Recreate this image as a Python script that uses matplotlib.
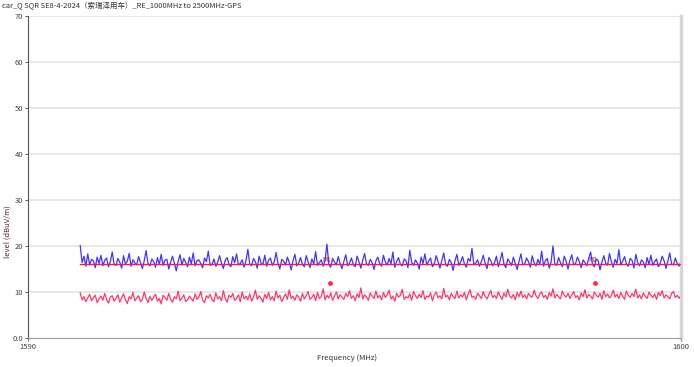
import numpy as np
import matplotlib.pyplot as plt

plt.rcParams['font.family'] = ['Noto Sans CJK SC', 'DejaVu Sans']

f_start = 1590.8
f_stop = 1600.0
limit = 16.0

peak = [20.1, 16.4, 17.8, 15.6, 18.3, 15.9, 17.1, 16.8, 15.3, 17.6, 16.2, 18.0, 15.7, 16.9, 17.4, 15.5, 16.6, 18.7, 16.0, 15.8,
        17.3, 16.5, 15.2, 17.9, 16.1, 16.7, 18.4, 15.6, 17.0, 16.3, 15.9, 17.7, 16.4, 15.1, 16.8, 19.0, 16.2, 15.7, 17.2, 16.6,
        15.4, 17.5, 16.0, 18.2, 15.8, 16.9, 17.1, 15.0, 16.5, 17.8, 16.3, 14.6, 16.7, 18.1, 15.9, 17.3, 16.4, 15.5, 17.6, 16.1,
        18.5, 15.7, 16.8, 17.0, 16.2, 15.3, 17.4, 16.6, 18.9, 15.8, 16.0, 17.2, 15.6, 16.5, 17.9, 16.3, 15.1, 16.9, 17.5, 16.0,
        15.5, 17.7, 16.4, 18.3, 15.9, 16.2, 17.0, 15.4, 16.8, 19.3, 16.1, 15.7, 17.3, 16.6, 15.2, 17.8, 16.3, 16.0, 18.0, 15.6,
        16.9, 17.4, 15.8, 16.5, 18.6, 16.2, 15.0, 17.1, 16.7, 15.9, 17.6, 16.4, 14.8, 16.8, 18.2, 15.7, 16.3, 17.5, 16.0, 15.5,
        17.9, 16.6, 15.3, 17.2, 16.1, 18.8, 15.8, 16.4, 17.0, 15.6, 16.9, 20.4, 16.0, 15.4, 17.3, 16.5, 15.9, 17.7, 16.2, 15.1,
        16.7, 18.1, 15.7, 16.3, 17.4, 16.0, 15.5, 17.8, 16.6, 15.2, 16.9, 18.4, 16.1, 15.8, 17.1, 16.4, 14.9, 16.8, 17.6, 16.2,
        15.6, 18.0, 16.5, 15.9, 17.3, 16.1, 18.7, 15.4, 16.6, 17.5, 16.0, 15.7, 17.2, 16.8, 15.3, 19.1, 16.4, 15.8, 17.0, 16.3,
        15.0, 17.6, 16.2, 18.3, 15.9, 16.7, 17.4, 15.5, 16.1, 17.9, 16.6, 15.2, 16.9, 18.5, 16.0, 15.6, 17.1, 16.4, 14.7, 16.8,
        18.2, 15.8, 16.5, 17.7, 16.1, 15.4, 17.3, 16.7, 19.5, 15.9, 16.3, 17.0, 15.6, 16.6, 18.0, 16.2, 15.1, 17.5, 16.8, 15.7,
        16.4, 17.8, 15.5, 16.9, 18.6, 16.0, 15.3, 17.2, 16.5, 15.8, 17.6, 16.2, 14.9, 16.7, 18.3, 15.9, 16.1, 17.4, 16.6, 15.4,
        17.9, 16.3, 15.7, 17.1, 16.0, 18.9, 15.6, 16.8, 17.3, 15.2, 16.5, 20.0, 16.1, 15.8, 17.5, 16.4, 15.5, 17.8, 16.7, 15.0,
        16.9, 18.1, 15.9, 16.2, 17.6, 16.6, 15.3, 17.0, 16.4, 15.7, 17.4, 18.7, 16.0, 15.5, 17.2, 16.8, 14.8, 16.5, 17.9, 16.3,
        15.8, 18.4, 16.6, 15.4, 17.1, 16.2, 19.2, 15.9, 16.7, 17.7, 16.1, 15.6, 17.3, 16.9, 15.2, 18.2, 16.4, 15.7, 17.0, 16.5,
        15.3, 17.5, 16.0, 18.0, 15.8, 16.6, 17.2, 15.5, 16.3, 17.8, 16.8, 15.1, 16.7, 18.5, 16.1, 15.9, 17.4, 16.2, 15.6, 16.8]

avg = [9.8, 8.3, 9.0, 7.9, 8.7, 9.5, 8.1, 8.8, 9.3, 7.7, 8.5, 9.1, 8.2, 9.7, 8.4, 7.6, 8.9, 9.2, 8.0, 8.6,
       9.4, 7.8, 8.8, 9.6, 8.3, 7.5, 9.0, 8.5, 9.9, 8.1, 8.7, 9.2, 7.9, 8.4, 10.0, 8.6, 7.7, 9.1, 8.2, 8.9,
       9.5, 8.0, 8.6, 7.4, 9.3, 8.8, 8.2, 9.7, 8.4, 7.8, 9.0, 8.5, 10.2, 8.1, 8.7, 9.4, 7.9, 8.3, 9.1, 8.6,
       8.0, 9.6, 8.4, 8.9, 10.1, 8.2, 7.7, 9.2, 8.7, 9.5, 8.3, 7.9, 9.8, 8.5, 9.0, 8.1, 10.3, 8.6, 7.8, 9.3,
       8.8, 9.7, 8.2, 8.6, 9.4, 7.9, 10.0, 8.5, 9.1, 8.3, 9.6, 8.0, 8.9, 10.4, 8.4, 9.2, 8.7, 7.8, 9.5, 8.6,
       9.9, 8.3, 9.0, 8.1, 10.2, 8.7, 9.3, 7.9, 8.8, 9.6, 8.4, 10.5, 8.6, 9.1, 8.2, 9.4, 8.9, 8.0, 9.7, 8.5,
       9.2, 10.1, 8.4, 8.8, 9.5, 8.1, 9.9, 8.6, 9.0, 10.7, 8.3, 9.3, 8.7, 9.8, 8.2, 9.1, 10.0, 8.5, 9.4, 8.9,
       8.4, 9.7, 9.0, 10.3, 8.6, 9.2, 8.1, 9.6, 8.8, 10.9, 8.5, 9.4, 8.9, 8.2, 9.8, 9.1, 8.6, 10.2, 8.7, 9.3,
       8.3, 9.9, 8.8, 9.4, 10.4, 8.5, 9.1, 8.0, 9.7, 8.9, 9.3, 10.6, 8.4, 9.0, 8.7, 9.6, 8.2, 10.1, 9.2, 8.6,
       9.5, 8.8, 10.3, 8.4, 9.1, 8.9, 9.8, 8.1, 9.4, 10.0, 8.7, 9.2, 8.5, 10.8, 8.9, 9.3, 8.3, 9.7, 9.0, 8.6,
       10.2, 8.7, 9.4, 8.9, 9.9, 8.3, 9.6, 10.5, 8.8, 9.1, 8.4, 9.7, 9.2, 8.6, 10.1, 9.0, 8.5, 9.5, 10.3, 8.8,
       9.3, 8.6, 10.0, 9.1, 8.4, 9.8, 8.9, 10.6, 9.2, 8.7, 9.5, 8.3, 9.9, 9.0, 10.2, 8.8, 9.4, 8.5, 9.7, 9.1,
       8.9, 10.4, 9.2, 8.6, 9.6, 10.0, 8.8, 9.3, 8.4, 9.9, 9.1, 10.7, 8.7, 9.5, 9.0, 8.5, 10.2, 9.3, 8.9, 9.7,
       8.6, 9.4, 10.1, 8.8, 9.2, 8.3, 9.8, 9.0, 10.5, 8.7, 9.5, 9.1, 8.5, 10.0, 9.3, 8.9, 9.7, 8.4, 10.3, 9.0,
       9.6, 8.7, 9.2, 10.4, 8.9, 9.5, 8.6, 9.9, 9.1, 8.4, 10.2, 9.3, 8.8, 9.7, 9.0, 10.6, 8.7, 9.4, 8.5, 9.8,
       9.1, 8.6, 10.0, 9.3, 8.8, 9.6, 8.4, 9.9, 9.2, 10.3, 8.7, 9.4, 9.0, 8.5, 9.7, 10.1, 8.8, 9.3, 8.6, 9.5]

# markers
mk_freq = [1594.62, 1598.68]
mk_level = [12.0, 12.0]
mk_label = ['M1', 'M2']

freq = np.linspace(f_start, f_stop, len(peak))

fig = plt.figure(figsize=(6.94, 3.67), dpi=100)
ax = fig.add_axes([0.0403, 0.079, 0.9410, 0.877])

for y in range(10, 71, 10):
    ax.axhline(y, color='#e8e8e8', lw=1.5, zorder=0)

ax.plot(freq, peak, color='#2a1fff', lw=0.9, alpha=0.9, zorder=2)
ax.plot(freq, avg, color='#ff2458', lw=0.9, alpha=0.9, zorder=2)
ax.plot([f_start, f_stop], [limit, limit], color='#ff1744', lw=1.0, zorder=3)
ax.plot(mk_freq, mk_level, 'o', color='#ff3040', ms=2.5, zorder=4)
for fx, lab in zip(mk_freq, mk_label):
    ax.text(fx - 0.04, 17.0, lab, color='#c0102c', fontsize=4.5, ha='center', va='center', zorder=4)

ax.set_xlim(1590, 1600)
ax.set_ylim(0, 70)
ax.set_xticks([1590, 1600])
ax.set_yticks(range(0, 71, 10))
ax.set_yticklabels(['0.0'] + [str(v) for v in range(10, 71, 10)])
ax.tick_params(labelsize=5.5, colors='#444444', length=2.5, width=0.6, pad=1)

ax.spines['top'].set_visible(False)
ax.spines['right'].set_color('#d6d6d6')
ax.spines['right'].set_linewidth(2.5)
ax.spines['left'].set_color('#555555')
ax.spines['bottom'].set_color('#999999')

fig.text(0.5, 0.024, 'Frequency (MHz)', fontsize=5.5, color='#333333', ha='center', va='center')
fig.text(0.011, 0.37, 'level (dBuV/m)', fontsize=5.5, color='#5a2030', ha='center', va='center',
         rotation=90)
fig.text(0.003, 0.982, 'car_Q SQR SE8-4-2024（索瑞泽用车）_RE_1000MHz to 2500MHz-GPS',
         fontsize=5.4, color='#333333', ha='left', va='center')

fig.savefig('out.png', dpi=100)
